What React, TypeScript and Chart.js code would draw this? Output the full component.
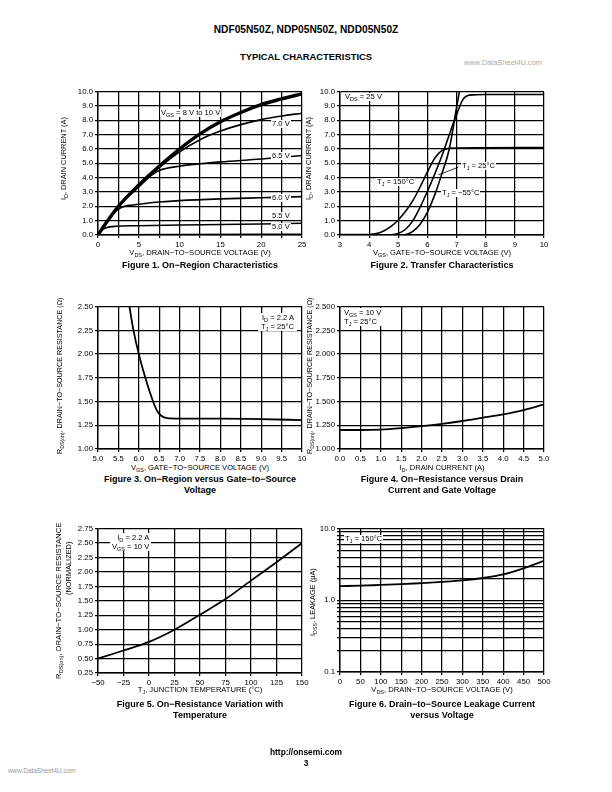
import React, { useEffect, useLayoutEffect, useRef, useState } from "react";
import { Chart, registerables } from "chart.js";
Chart.register(...registerables);

const FONT = '"Liberation Sans", Arial, Helvetica, sans-serif';

// ---------- Figure 1: On-Region Characteristics (VDS vs ID) ----------
const fig1XTicks = [0, 2.5, 5, 7.5, 10, 12.5, 15, 17.5, 20, 22.5, 25];
const fig1YTicks = [0, 1, 2, 3, 4, 5, 6, 7, 8, 9, 10];
const fig1Vgs8to10 = [[0, 0], [1, 0.85], [2.5, 2.0], [5, 3.5], [7.5, 4.8], [10, 6.0], [12.5, 7.05], [15, 7.9], [17.5, 8.55], [20, 9.1], [22.5, 9.5], [25, 9.85]];
const fig1Vgs7 = [[0, 0], [1, 0.85], [2.5, 2.0], [5, 3.45], [7.5, 4.7], [10, 5.8], [12.5, 6.65], [15, 7.25], [17.5, 7.7], [20, 8.05], [22.5, 8.3], [25, 8.5]];
const fig1Vgs65 = [[0, 0], [1, 0.85], [2.5, 2.0], [5, 3.35], [6.5, 4.15], [7.5, 4.5], [10, 4.8], [12.5, 4.97], [15, 5.1], [20, 5.3], [25, 5.55]];
const fig1Vgs6 = [[0, 0], [1, 0.8], [2, 1.55], [2.5, 1.8], [3, 1.95], [4, 2.08], [5, 2.15], [7.5, 2.3], [10, 2.4], [15, 2.52], [20, 2.6], [25, 2.68]];
const fig1Vgs55 = [[0, 0], [0.5, 0.35], [1, 0.5], [2, 0.6], [5, 0.65], [10, 0.7], [15, 0.73], [20, 0.77], [25, 0.82]];
const fig1Vgs5 = [[0, 0], [1, 0.02], [10, 0.03], [25, 0.05]];

// ---------- Figure 2: Transfer Characteristics ----------
const fig2XTicks = [3, 4, 5, 6, 7, 8, 9, 10];
const fig2YTicks = [0, 1, 2, 3, 4, 5, 6, 7, 8, 9, 10];
const fig2Tj150 = [[3, 0.03], [4, 0.04], [4.25, 0.1], [4.5, 0.28], [4.75, 0.6], [5, 1.05], [5.25, 1.65], [5.5, 2.4], [5.75, 3.35], [6, 4.4], [6.25, 5.35], [6.5, 5.9], [6.75, 6.05], [7, 6.07], [8, 6.08], [10, 6.1]];
const fig2Tj25 = [[3, 0], [4.6, 0], [5, 0.1], [5.25, 0.4], [5.5, 1.0], [5.75, 1.95], [6, 3.05], [6.25, 4.25], [6.5, 5.55], [6.75, 7.0], [7, 8.4], [7.2, 9.4], [7.35, 9.7], [7.6, 9.78], [8, 9.8], [10, 9.8]];
const fig2TjM55 = [[3, 0], [5.1, 0], [5.3, 0.05], [5.5, 0.25], [5.75, 0.75], [6, 1.6], [6.25, 2.8], [6.5, 4.3], [6.75, 6.0], [7, 8.9], [7.15, 10.6]];
const fig2Leader25 = [[6.38, 4.2], [7.06, 4.73]];

// ---------- Figure 3: RDS(on) vs VGS ----------
const fig3XTicks = [5, 5.5, 6, 6.5, 7, 7.5, 8, 8.5, 9, 9.5, 10];
const fig3YTicks = [1, 1.25, 1.5, 1.75, 2, 2.25, 2.5];
const fig3Rds = [[5.77, 2.5], [5.87, 2.25], [6.0, 2.0], [6.16, 1.75], [6.35, 1.5], [6.45, 1.4], [6.55, 1.35], [6.7, 1.325], [7, 1.32], [8, 1.32], [9, 1.315], [10, 1.305]];

// ---------- Figure 4: RDS(on) vs ID ----------
const fig4XTicks = [0, 0.5, 1, 1.5, 2, 2.5, 3, 3.5, 4, 4.5, 5];
const fig4YTicks = [1, 1.25, 1.5, 1.75, 2, 2.25, 2.5];
const fig4Rds = [[0, 1.2], [0.5, 1.2], [1, 1.205], [1.5, 1.22], [2, 1.24], [2.5, 1.265], [3, 1.295], [3.5, 1.33], [4, 1.365], [4.5, 1.41], [5, 1.47]];

// ---------- Figure 5: RDS(on) vs Temperature ----------
const fig5XTicks = [-50, -25, 0, 25, 50, 75, 100, 125, 150];
const fig5YTicks = [0.25, 0.5, 0.75, 1, 1.25, 1.5, 1.75, 2, 2.25, 2.5, 2.75];
const fig5Rds = [[-50, 0.5], [-25, 0.64], [0, 0.79], [25, 1.0], [50, 1.26], [75, 1.53], [100, 1.85], [125, 2.17], [150, 2.5]];

// ---------- Figure 6: Leakage vs VDS ----------
const fig6XTicks = [0, 50, 100, 150, 200, 250, 300, 350, 400, 450, 500];
const fig6YTicks = [0.1, 0.2, 0.3, 0.4, 0.5, 0.6, 0.7, 0.8, 0.9, 1, 2, 3, 4, 5, 6, 7, 8, 9, 10];
const fig6YLabels = [0.1, 1, 10];
const fig6Idss = [[0, 1.58], [50, 1.6], [100, 1.64], [150, 1.68], [200, 1.74], [250, 1.81], [300, 1.9], [350, 2.05], [400, 2.3], [450, 2.8], [500, 3.55]];

const toXY = (a: number[][]) => a.map(([x, y]) => ({ x, y }));

const PAD_L = 34, PAD_T = 6, PAD_R = 12, PAD_B = 14;

function axis(min: number, max: number, ticks: number[], fmt: (v: number) => string, type = "linear") {
  return {
    type,
    min,
    max,
    afterBuildTicks: (s: any) => {
      s.ticks = ticks.map((v) => ({ value: v }));
    },
    ticks: {
      callback: (v: any) => fmt(Number(v)),
      font: { family: FONT, size: 7.8 },
      color: "#000",
      padding: 2,
      autoSkip: false,
      maxRotation: 0,
      minRotation: 0,
    },
    grid: { color: "#000", lineWidth: 1.25, tickLength: 3, drawTicks: true },
    border: { color: "#000", width: 1.4 },
  };
}

type Rect = { l: number; t: number; r: number; b: number };

function PlotChart({ rect, datasets, x, y }: { rect: Rect; datasets: any[]; x: any; y: any }) {
  const ref = useRef<HTMLCanvasElement>(null);
  const w = rect.r - rect.l + PAD_L + PAD_R;
  const h = rect.b - rect.t + PAD_T + PAD_B;
  useEffect(() => {
    const chart = new Chart(ref.current as HTMLCanvasElement, {
      type: "line",
      data: { datasets },
      options: {
        animation: false,
        responsive: false,
        devicePixelRatio: 1,
        layout: { padding: { top: PAD_T, right: PAD_R, left: 0, bottom: 0 } },
        plugins: { legend: { display: false }, tooltip: { enabled: false }, title: { display: false } },
        elements: {
          point: { radius: 0 },
          line: { borderColor: "#000", borderWidth: 1.6, cubicInterpolationMode: "monotone" },
        },
        scales: {
          x: { ...x, afterFit: (s: any) => { s.height = PAD_B; } },
          y: { ...y, afterFit: (s: any) => { s.width = PAD_L; } },
        },
      } as any,
    });
    return () => chart.destroy();
  }, []);
  return (
    <canvas
      ref={ref}
      width={w}
      height={h}
      style={{ position: "absolute", left: rect.l - PAD_L, top: rect.t - PAD_T, width: w, height: h }}
    />
  );
}

const ds = (pts: number[][], width = 1.6) => ({
  data: toXY(pts),
  borderColor: "#000",
  borderWidth: width,
  fill: false,
  pointRadius: 0,
});

const Sub = ({ c }: { c: string }) => (
  <sub style={{ fontSize: "0.72em", verticalAlign: "-0.3em", lineHeight: 0 }}>{c}</sub>
);

function T({ x, y, children, size = 7.6, bold = false, left = false, bg = false, color = "#000" }: any) {
  return (
    <div
      style={{
        position: "absolute",
        left: x,
        top: y,
        transform: left ? "translate(0,-50%)" : "translate(-50%,-50%)",
        fontSize: size,
        fontWeight: bold ? 700 : 400,
        whiteSpace: "nowrap",
        fontFamily: FONT,
        color,
        background: bg ? "#fff" : "transparent",
        lineHeight: 1.05,
        padding: bg ? "0 1px" : 0,
      }}
    >
      {children}
    </div>
  );
}

// Rotated (bottom-to-top) axis title, centred on (x, y), snapped to whole pixels
function RT({ x, y, children, size = 7.4 }: any) {
  const ref = useRef<HTMLDivElement>(null);
  const [pos, setPos] = useState<{ l: number; t: number } | null>(null);
  useLayoutEffect(() => {
    const el = ref.current as HTMLDivElement;
    const w = el.offsetWidth;
    const h = el.offsetHeight;
    setPos({ l: Math.round(x - h / 2), t: Math.round(y + w / 2) });
  }, []);
  return (
    <div
      ref={ref}
      style={{
        position: "absolute",
        left: pos ? pos.l : 0,
        top: pos ? pos.t : 0,
        visibility: pos ? "visible" : "hidden",
        transformOrigin: "0 0",
        transform: "rotate(-90deg)",
        whiteSpace: "nowrap",
        fontFamily: FONT,
        fontSize: size,
        lineHeight: "10px",
        color: "#000",
      }}
    >
      {children}
    </div>
  );
}

const f1 = (v: number) => v.toFixed(1);
const f2 = (v: number) => v.toFixed(2);
const f3 = (v: number) => v.toFixed(3);

const R1 = { l: 98, t: 91, r: 302, b: 235 };
const R2 = { l: 340, t: 91, r: 544, b: 235 };
const R3 = { l: 98, t: 306, r: 302, b: 449 };
const R4 = { l: 340, t: 306, r: 544, b: 449 };
const R5 = { l: 98, t: 528, r: 302, b: 673 };
const R6 = { l: 340, t: 528, r: 544, b: 672 };

export default function App() {
  return (
    <div style={{ position: "absolute", left: 0, top: 0, width: 612, height: 792, background: "#fff", overflow: "hidden", fontFamily: FONT }}>
      <T x={306} y={30} size={10.2} bold>NDF05N50Z, NDP05N50Z, NDD05N50Z</T>
      <T x={306} y={57} size={9.4} bold>TYPICAL CHARACTERISTICS</T>
      <T x={503} y={63} size={7.4} color="#aaa">www.DataSheet4U.com</T>

      {/* Figure 1 */}
      <PlotChart
        rect={R1}
        datasets={[ds(fig1Vgs8to10, 3.4), ds(fig1Vgs7), ds(fig1Vgs65), ds(fig1Vgs6), ds(fig1Vgs55), ds(fig1Vgs5)]}
        x={axis(0, 25, fig1XTicks, (v) => (v % 5 === 0 ? String(v) : ""))}
        y={axis(0, 10, fig1YTicks, f1)}
      />
      <T x={160} y={113} left bg>V<Sub c="GS" /> = 8 V to 10 V</T>
      <T x={271} y={124} left bg>7.0 V</T>
      <T x={271} y={156} left bg>6.5 V</T>
      <T x={271} y={198} left bg>6.0 V</T>
      <T x={271} y={216} left bg>5.5 V</T>
      <T x={271} y={227} left bg>5.0 V</T>
      <RT x={64} y={158}>I<Sub c="D" />, DRAIN CURRENT (A)</RT>
      <T x={200} y={253}>V<Sub c="DS" />, DRAIN−TO−SOURCE VOLTAGE (V)</T>
      <T x={200} y={266} size={9} bold>Figure 1. On−Region Characteristics</T>

      {/* Figure 2 */}
      <PlotChart
        rect={R2}
        datasets={[ds(fig2Tj150), ds(fig2Tj25), ds(fig2TjM55), ds(fig2Leader25, 0.8)]}
        x={axis(3, 10, fig2XTicks, (v) => String(v))}
        y={axis(0, 10, fig2YTicks, f1)}
      />
      <T x={344} y={97} left bg>V<Sub c="DS" /> = 25 V</T>
      <T x={461} y={166} left bg>T<Sub c="J" /> = 25°C</T>
      <T x={376} y={182} left bg>T<Sub c="J" /> = 150°C</T>
      <T x={441} y={193} left bg>T<Sub c="J" /> = −55°C</T>
      <RT x={309} y={158}>I<Sub c="D" />, DRAIN CURRENT (A)</RT>
      <T x={442} y={253}>V<Sub c="GS" />, GATE−TO−SOURCE VOLTAGE (V)</T>
      <T x={442} y={266} size={9} bold>Figure 2. Transfer Characteristics</T>

      {/* Figure 3 */}
      <PlotChart
        rect={R3}
        datasets={[ds(fig3Rds, 1.8)]}
        x={axis(5, 10, fig3XTicks, (v) => (v === 10 ? "10" : v.toFixed(1)))}
        y={axis(1, 2.5, fig3YTicks, f2)}
      />
      <div style={{ position: "absolute", left: 258, top: 313, background: "#fff", fontFamily: FONT, fontSize: 7.6, lineHeight: 1.2, textAlign: "right", padding: "0 3px", whiteSpace: "nowrap" }}>
        <div>I<Sub c="D" /> = 2.2 A</div>
        <div>T<Sub c="J" /> = 25°C</div>
      </div>
      <RT x={60} y={375} size={7.2}>R<Sub c="DS(on)" />, DRAIN−TO−SOURCE RESISTANCE (Ω)</RT>
      <T x={200} y={468}>V<Sub c="GS" />, GATE−TO−SOURCE VOLTAGE (V)</T>
      <T x={200} y={480} size={9} bold>Figure 3. On−Region versus Gate−to−Source</T>
      <T x={200} y={491} size={9} bold>Voltage</T>

      {/* Figure 4 */}
      <PlotChart
        rect={R4}
        datasets={[ds(fig4Rds, 1.8)]}
        x={axis(0, 5, fig4XTicks, f1)}
        y={axis(1, 2.5, fig4YTicks, f3)}
      />
      <div style={{ position: "absolute", left: 342, top: 308, background: "#fff", fontFamily: FONT, fontSize: 7.6, lineHeight: 1.2, padding: "0 2px", whiteSpace: "nowrap" }}>
        <div>V<Sub c="GS" /> = 10 V</div>
        <div>T<Sub c="J" /> = 25°C</div>
      </div>
      <RT x={310} y={375} size={7.2}>R<Sub c="DS(on)" />, DRAIN−TO−SOURCE RESISTANCE (Ω)</RT>
      <T x={442} y={468}>I<Sub c="D" />, DRAIN CURRENT (A)</T>
      <T x={442} y={480} size={9} bold>Figure 4. On−Resistance versus Drain</T>
      <T x={442} y={491} size={9} bold>Current and Gate Voltage</T>

      {/* Figure 5 */}
      <PlotChart
        rect={R5}
        datasets={[ds(fig5Rds, 1.8)]}
        x={axis(-50, 150, fig5XTicks, (v) => (v < 0 ? "−" + Math.abs(v) : String(v)))}
        y={axis(0.25, 2.75, fig5YTicks, f2)}
      />
      <div style={{ position: "absolute", left: 110, top: 533, background: "#fff", fontFamily: FONT, fontSize: 7.6, lineHeight: 1.2, textAlign: "right", padding: "0 2px", whiteSpace: "nowrap" }}>
        <div>I<Sub c="D" /> = 2.2 A</div>
        <div>V<Sub c="GS" /> = 10 V</div>
      </div>
      <RT x={59} y={600} size={7.8}>R<Sub c="DS(on)" />, DRAIN−TO−SOURCE RESISTANCE</RT>
      <RT x={69} y={568} size={7.4}>(NORMALIZED)</RT>
      <T x={200} y={690}>T<Sub c="J" />, JUNCTION TEMPERATURE (°C)</T>
      <T x={200} y={705} size={9} bold>Figure 5. On−Resistance Variation with</T>
      <T x={200} y={716} size={9} bold>Temperature</T>

      {/* Figure 6 */}
      <PlotChart
        rect={R6}
        datasets={[ds(fig6Idss, 1.8)]}
        x={axis(0, 500, fig6XTicks, (v) => String(v))}
        y={axis(0.1, 10, fig6YTicks, (v) => (fig6YLabels.some((l) => Math.abs(l - v) < 1e-9) ? v.toFixed(1) : ""), "logarithmic")}
      />
      <T x={344} y={539} left bg>T<Sub c="J" /> = 150°C</T>
      <RT x={313} y={602}>I<Sub c="DSS" />, LEAKAGE (μA)</RT>
      <T x={442} y={690}>V<Sub c="DS" />, DRAIN−TO−SOURCE VOLTAGE (V)</T>
      <T x={442} y={705} size={9} bold>Figure 6. Drain−to−Source Leakage Current</T>
      <T x={442} y={716} size={9} bold>versus Voltage</T>

      {/* Footer */}
      <T x={306} y={752} size={8.4} bold>http://onsemi.com</T>
      <T x={306} y={763} size={8.4} bold>3</T>
      <T x={8} y={771} size={6.4} left color="#999">www.DataSheet4U.com</T>
    </div>
  );
}
